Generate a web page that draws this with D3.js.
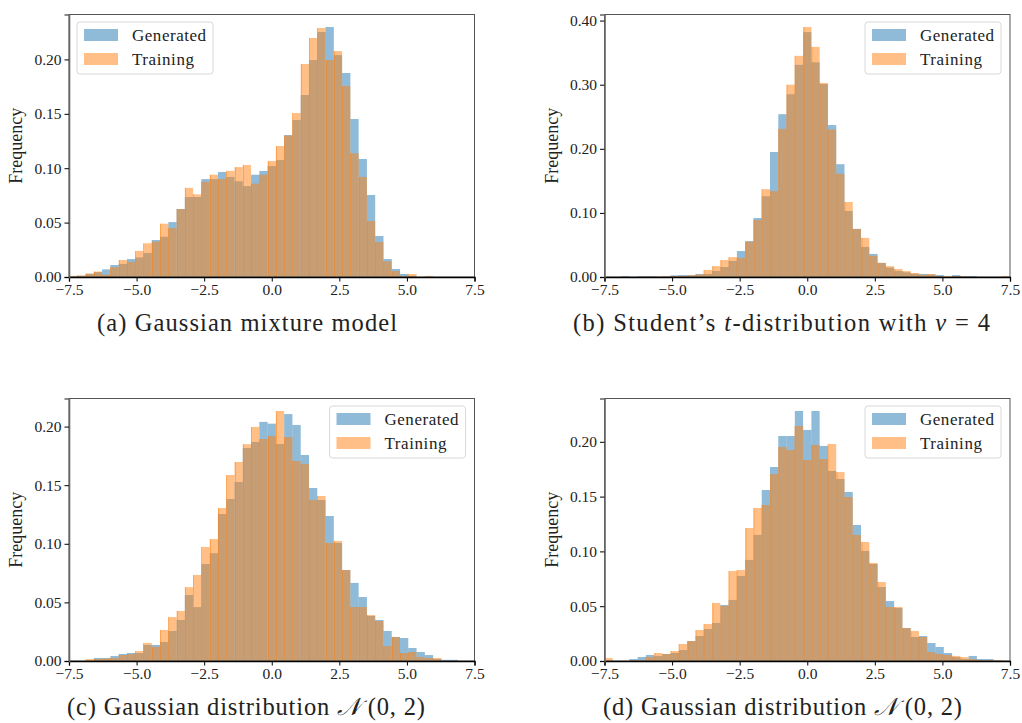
<!DOCTYPE html>
<html>
<head>
<meta charset="utf-8">
<script src="https://cdn.jsdelivr.net/npm/d3@7"></script>
<style>
  body { margin: 0; background: #fff; }
  svg text { font-family: "Liberation Serif", "DejaVu Serif", serif; fill: #222; }
</style>
</head>
<body>
<div id="chart"></div>
<script>
// histogram bins: 49 equal bins between -7.5 and 7.5
const binLo = -7.5, binHi = 7.5, binCount = 49

// (a) Gaussian mixture model
const gmmGenerated = [0.0005, 0.001, 0.003, 0.0045, 0.007, 0.011, 0.012, 0.0165, 0.018, 0.022,
  0.034, 0.037, 0.0505, 0.0625, 0.0735, 0.0735, 0.090, 0.090, 0.0965, 0.092,
  0.088, 0.0836, 0.094, 0.0975, 0.102, 0.1075, 0.1305, 0.1443, 0.1673, 0.1994,
  0.2252, 0.2298, 0.204, 0.1875, 0.1452, 0.1085, 0.0754, 0.0377, 0.0165, 0.0074,
  0.0028, 0.001, 0, 0, 0, 0, 0, 0, 0]
const gmmTraining = [0.001, 0.0015, 0.003, 0.005, 0.002, 0.009, 0.0156, 0.014, 0.024, 0.031,
  0.0325, 0.049, 0.045, 0.0625, 0.082, 0.076, 0.0876, 0.094, 0.090, 0.0975,
  0.101, 0.103, 0.0858, 0.094, 0.1066, 0.1204, 0.130, 0.1507, 0.1958, 0.2197,
  0.2289, 0.1994, 0.2077, 0.1755, 0.1137, 0.0919, 0.0515, 0.0322, 0.0144, 0.0055,
  0.001, 0.0028, 0, 0.001, 0, 0, 0, 0, 0]

// (b) Student's t, nu = 4
const studentGenerated = [0, 0, 0.0015, 0, 0.001, 0.001, 0.0005, 0.001, 0.0026, 0.003,
  0.003, 0.0047, 0.0047, 0.0094, 0.0156, 0.025, 0.0405, 0.056, 0.092, 0.126,
  0.195, 0.254, 0.285, 0.331, 0.382, 0.335, 0.301, 0.237, 0.176, 0.103,
  0.075, 0.047, 0.036, 0.022, 0.0146, 0.0094, 0.0073, 0.0052, 0.0047, 0.004,
  0.003, 0, 0.003, 0.001, 0.0015, 0, 0, 0, 0]
const studentTraining = [0, 0, 0, 0, 0, 0.0005, 0.0005, 0.001, 0.0015, 0.002,
  0.0026, 0.004, 0.011, 0.017, 0.0265, 0.031, 0.030, 0.055, 0.089, 0.137,
  0.134, 0.231, 0.300, 0.345, 0.390, 0.359, 0.3027, 0.230, 0.161, 0.117,
  0.075, 0.061, 0.033, 0.022, 0.017, 0.0125, 0.0094, 0.0062, 0.0036, 0.0047,
  0.0015, 0.0005, 0.0015, 0.0015, 0, 0, 0, 0, 0.0015]

// (c) Gaussian N(0, 2)
const gaussCGenerated = [0, 0, 0, 0.0026, 0.0026, 0.0043, 0.006, 0.0068, 0.0068, 0.0137,
  0.0137, 0.0162, 0.0256, 0.035, 0.0563, 0.046, 0.0828, 0.092, 0.1254, 0.1382,
  0.1527, 0.1817, 0.1869, 0.204, 0.2025, 0.1852, 0.2107, 0.2014, 0.1758, 0.1476,
  0.1374, 0.1237, 0.1007, 0.0776, 0.0666, 0.0546, 0.0384, 0.035, 0.0256, 0.0205,
  0.0196, 0.0111, 0.0077, 0.0051, 0.0017, 0.001, 0.001, 0, 0]
const gaussCTraining = [0, 0, 0.0017, 0.0017, 0.002, 0.0026, 0.0051, 0.006, 0.0085, 0.0154,
  0.012, 0.0265, 0.0375, 0.0427, 0.063, 0.0734, 0.0973, 0.104, 0.1305, 0.1587,
  0.1698, 0.185, 0.1997, 0.1894, 0.192, 0.2133, 0.1911, 0.1706, 0.168, 0.1374,
  0.1408, 0.1007, 0.1024, 0.0776, 0.0461, 0.0461, 0.0392, 0.0341, 0.0128, 0.0205,
  0.0068, 0.0077, 0.0034, 0.0026, 0.0026, 0, 0, 0, 0]

// (d) Gaussian N(0, 2), second run
const gaussDGenerated = [0, 0, 0, 0.0018, 0.0036, 0.0055, 0.0046, 0.0064, 0.0073, 0.010,
  0.0182, 0.0228, 0.0292, 0.0347, 0.0511, 0.0557, 0.0776, 0.0922, 0.115, 0.156,
  0.177, 0.2053, 0.2053, 0.2281, 0.2108, 0.2281, 0.1962, 0.1734, 0.166, 0.1542,
  0.1241, 0.1004, 0.0885, 0.0675, 0.0547, 0.0484, 0.0301, 0.0219, 0.0228, 0.0164,
  0.0128, 0.0073, 0.0036, 0.0018, 0.0046, 0.0018, 0.0018, 0, 0]
const gaussDTraining = [0.0027, 0, 0, 0.0009, 0.0009, 0.0036, 0.0073, 0.0064, 0.0091, 0.0155,
  0.0182, 0.0283, 0.0338, 0.0529, 0.0502, 0.0821, 0.083, 0.1213, 0.1396, 0.1423,
  0.1706, 0.1953, 0.1925, 0.2144, 0.1834, 0.1971, 0.1843, 0.198, 0.1724, 0.1496,
  0.115, 0.1086, 0.0894, 0.0721, 0.0493, 0.0493, 0.0301, 0.0274, 0.0219, 0.0082,
  0.0064, 0.0055, 0.0046, 0.0036, 0.0018, 0.0009, 0.0009, 0.0009, 0]

const xTicks = [-7.5, -5.0, -2.5, 0.0, 2.5, 5.0, 7.5]
const yTicksSmall = [0, 0.05, 0.10, 0.15, 0.20]
const yTicksStudent = [0, 0.10, 0.20, 0.30, 0.40]
const seriesNames = ['Generated', 'Training']

const colors = { Generated: '#1f77b4', Training: '#ff7f0e' }

const panels = [
  { gen: gmmGenerated, train: gmmTraining, yTicks: yTicksSmall, left: 69, top: 14.5, legend: 'left',
    capX: 247, capY: 331, capW: 300, caption: [['(a) Gaussian mixture model', 'normal']] },
  { gen: studentGenerated, train: studentTraining, yTicks: yTicksStudent, left: 604.5, top: 14.5, legend: 'right',
    capX: 781.5, capY: 331, capW: 417,
    caption: [['(b) Student’s ', 'normal'], ['t', 'italic'], ['-distribution with ', 'normal'], ['ν', 'italic'], [' = 4', 'normal']] },
  { gen: gaussCGenerated, train: gaussCTraining, yTicks: yTicksSmall, left: 69, top: 398.5, legend: 'right',
    capX: 246, capY: 715, capW: 358,
    caption: [['(c) Gaussian distribution ', 'normal'], ['𝒩', 'math'], [' (0, 2)', 'normal']] },
  { gen: gaussDGenerated, train: gaussDTraining, yTicks: yTicksSmall, left: 604.5, top: 398.5, legend: 'right',
    capX: 782.5, capY: 715, capW: 359,
    caption: [['(d) Gaussian distribution ', 'normal'], ['𝒩', 'math'], [' (0, 2)', 'normal']] }
]

const plotW = 405.5, plotH = 262.5

const svg = d3.select('#chart').append('svg')
    .attr('width', 1022)
    .attr('height', 723)

const edges = d3.range(binCount + 1).map(i => binLo + (binHi - binLo) * i / binCount)

panels.forEach(p => drawPanel(p))

function drawPanel(p) {
  const g = svg.append('g').attr('transform', 'translate(' + p.left + ',' + p.top + ')')

  const yMax = d3.max(p.gen.concat(p.train)) * 1.05
  const x = d3.scaleLinear().domain([binLo, binHi]).range([0, plotW])
  const y = d3.scaleLinear().domain([0, yMax]).range([plotH, 0])

  const bins = d3.range(binCount).map(i => ({ x0: edges[i], x1: edges[i + 1], gen: p.gen[i], train: p.train[i] }))

  for (const name of seriesNames) {
    const key = name === 'Generated' ? 'gen' : 'train'
    g.append('g').selectAll('rect')
        .data(bins.filter(d => d[key] > 0))
        .join('rect')
        .attr('x', d => x(d.x0))
        .attr('width', d => x(d.x1) - x(d.x0))
        .attr('y', d => y(d[key]))
        .attr('height', d => plotH - y(d[key]))
        .attr('fill', colors[name])
        .attr('fill-opacity', 0.5)
  }

  // thin darker seams between neighbouring training bars (matplotlib overlap artefact)
  g.append('g').selectAll('line')
      .data(bins.slice(1).filter((d, i) => d.train > 0 && bins[i].train > 0))
      .join('line')
      .attr('x1', d => Math.round(x(d.x0)) + 0.5)
      .attr('x2', d => Math.round(x(d.x0)) + 0.5)
      .attr('y1', d => y(d.train))
      .attr('y2', plotH)
      .attr('stroke', colors.Training)
      .attr('stroke-opacity', 0.45)
      .attr('stroke-width', 1)

  // frame
  g.append('rect')
      .attr('width', plotW)
      .attr('height', plotH)
      .attr('fill', 'none')
      .attr('stroke', '#555')
      .attr('stroke-width', 1)

  const xAxis = g.append('g')
      .attr('transform', 'translate(0,' + plotH + ')')
      .call(d3.axisBottom(x).tickValues(xTicks).tickFormat(d3.format('.1f')).tickSize(4.5).tickPadding(2))
  xAxis.select('.domain').attr('stroke', '#000').attr('stroke-width', 1.3)

  const yAxis = g.append('g')
      .call(d3.axisLeft(y).tickValues(p.yTicks).tickFormat(d3.format('.2f')).tickSize(4.5).tickPadding(3))
  yAxis.select('.domain').attr('stroke', '#666').attr('stroke-width', 1.6)

  svg.selectAll('.tick text')
      .attr('font-family', '"Liberation Serif", serif')
      .attr('font-size', 15.5)
      .attr('fill', '#222')

  g.append('text')
      .attr('transform', 'translate(-47,' + (plotH / 2) + ') rotate(-90)')
      .attr('text-anchor', 'middle')
      .attr('font-size', 18)
      .text('Frequency')

  // legend
  const lw = 136, lh = 52
  const lx = p.legend === 'left' ? 8 : plotW - 9 - lw
  const leg = g.append('g').attr('transform', 'translate(' + lx + ',7.5)')
  leg.append('rect')
      .attr('width', lw)
      .attr('height', lh)
      .attr('rx', 3)
      .attr('fill', '#fff')
      .attr('fill-opacity', 0.8)
      .attr('stroke', '#d8d8d8')
  seriesNames.forEach((name, i) => {
    leg.append('rect')
        .attr('x', 7)
        .attr('y', 7 + i * 24)
        .attr('width', 34)
        .attr('height', 12)
        .attr('fill', colors[name])
        .attr('fill-opacity', 0.5)
    leg.append('text')
        .attr('x', 55)
        .attr('y', 18.5 + i * 24)
        .attr('font-size', 17)
        .attr('textLength', name === 'Generated' ? 74 : 62)
        .text(name)
  })

  // caption
  const cap = svg.append('text')
      .attr('x', p.capX)
      .attr('y', p.capY)
      .attr('text-anchor', 'middle')
      .attr('font-size', 24.5)
      .attr('textLength', p.capW)
      .attr('lengthAdjust', 'spacing')
  p.caption.forEach(([t, style]) => {
    const s = cap.append('tspan').text(t)
    if (style === 'italic') s.attr('font-style', 'italic')
    if (style === 'math') s.attr('font-family', '"DejaVu Sans", "Noto Sans", serif').attr('font-style', 'italic')
  })
}
</script>
</body>
</html>
